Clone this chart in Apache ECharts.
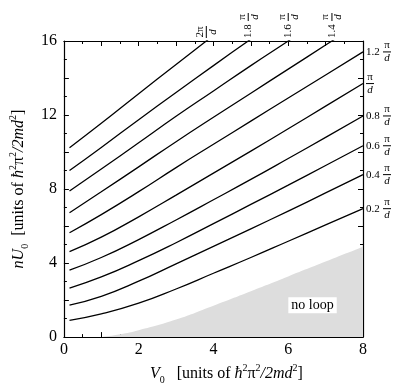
<!DOCTYPE html>
<html>
<head>
<meta charset="utf-8">
<script src="https://cdn.jsdelivr.net/npm/echarts@6/dist/echarts.min.js"></script>
<style>
  html, body { margin: 0; background: #fff; }
  #chart { width: 399px; height: 390px; }
</style>
</head>
<body>
<div id="chart"></div>
<script>
/* V0 sample points shared by every curve */
const V0 = [0.15, 1, 2, 3, 4, 5, 6, 7, 8];

/* nU0 for each k (in units of pi/d) */
const k02 = [0.9, 1.25, 1.83, 2.6, 3.45, 4.3, 5.18, 6.06, 6.94];
const k04 = [1.73, 2.2, 3.02, 3.96, 4.9, 5.85, 6.81, 7.79, 8.78];
const k06 = [2.65, 3.25, 4.13, 5.1, 6.13, 7.17, 8.21, 9.27, 10.34];
const k08 = [3.62, 4.3, 5.27, 6.33, 7.42, 8.52, 9.65, 10.79, 11.95];
const k10 = [4.62, 5.4, 6.5, 7.67, 8.86, 10.05, 11.26, 12.48, 13.7];
const k12 = [5.64, 6.62, 7.86, 9.16, 10.42, 11.67, 12.92, 14.16, 15.41];
const k14 = [6.72, 7.85, 9.2, 10.56, 11.88, 13.18, 14.48, 15.78, 17.08];
const k16 = [7.89, 9.08, 10.5, 11.93, 13.3, 14.67, 16.0, 17.35, 18.7];
const k18 = [9.0, 10.25, 11.75, 13.22, 14.67, 16.1, 17.5, 18.9, 20.3];
const k20 = [10.23, 11.55, 13.15, 14.73, 16.3, 17.85, 19.4, 20.95, 22.5];

/* curves labelled on the right axis / on the top axis */
const rightCurves = [k02, k04, k06, k08, k10, k12];
const rightCoef = ['0.2', '0.4', '0.6', '0.8', '', '1.2'];
const topCurves = [k20, k18, k16, k14];
const topCoef = ['2', '1.8', '1.6', '1.4'];

/* shaded "no loop" region boundary */
const noLoopV = [1.0, 1.5, 2, 3, 4, 5, 6, 7, 8];
const noLoopU = [0, 0.15, 0.37, 0.95, 1.7, 2.48, 3.28, 4.08, 4.88];
const noLoopText = 'no loop';
const noLoopAt = [6.65, 1.72];

const Y_MAX = 16;
const FONT = '"Liberation Serif", "Times New Roman", serif';

/* ends on the right axis */
const rightVals = rightCurves.map(c => c[c.length - 1]);
/* where a curve leaves through the top */
function crossTop(c) {
  for (let i = 1; i < c.length; i++) {
    if (c[i] >= Y_MAX) {
      return V0[i - 1] + (Y_MAX - c[i - 1]) * (V0[i] - V0[i - 1]) / (c[i] - c[i - 1]);
    }
  }
  return V0[V0.length - 1];
}
const topVals = topCurves.map(crossTop);

function nearest(list, v) {
  let best = 0;
  list.forEach((x, i) => { if (Math.abs(x - v) < Math.abs(list[best] - v)) best = i; });
  return best;
}

/* stacked fraction label: coef  pi/d */
function fracLabel(coef) {
  if (coef === '2') return '{s0| }{f2|2π}\n{n0| }{b2| }\n{s0| }{d2|d}';
  if (coef === '') return '{s0| }{f|π}\n{n0| }{b| }\n{s0| }{d|d}';
  return '{s| }{f|π}\n{n|' + coef + '}{b| }\n{s| }{d|d}';
}

const fracRich = {
  s: { width: 17, align: 'left', lineHeight: 10 },
  n: { width: 17, align: 'left', lineHeight: 3, fontSize: 11, fontFamily: FONT, color: '#000' },
  s0: { width: 0, align: 'left', lineHeight: 10 },
  n0: { width: 0, align: 'left', lineHeight: 3 },
  f: { width: 8, align: 'center', fontSize: 11, lineHeight: 10, fontFamily: FONT, color: '#000' },
  d: { width: 8, align: 'center', fontSize: 11, lineHeight: 10, fontFamily: FONT, fontStyle: 'italic', color: '#000' },
  b: { width: 8, height: 1, align: 'center', lineHeight: 3, backgroundColor: '#000' },
  f2: { width: 12, align: 'center', fontSize: 11, lineHeight: 10, fontFamily: FONT, color: '#000' },
  d2: { width: 12, align: 'center', fontSize: 11, lineHeight: 10, fontFamily: FONT, fontStyle: 'italic', color: '#000' },
  b2: { width: 12, height: 1, align: 'center', lineHeight: 3, backgroundColor: '#000' }
};

const nameRich = {
  r: { fontSize: 16, fontFamily: FONT, color: '#000', lineHeight: 22 },
  i: { fontSize: 16, fontFamily: FONT, fontStyle: 'italic', color: '#000', lineHeight: 22 },
  sup: { fontSize: 10, fontFamily: FONT, color: '#000', verticalAlign: 'top', lineHeight: 22 },
  sub: { fontSize: 10, fontFamily: FONT, color: '#000', verticalAlign: 'bottom', lineHeight: 22 }
};
const unitsText = '{r|[units of }{i|ħ}{sup|2}{r|π}{sup|2}{i|/2md}{sup|2}{r|]}';

const axisLine = { onZero: false, lineStyle: { color: '#000', width: 1.2 } };
const axisTick = { inside: true, length: 5, lineStyle: { color: '#000', width: 1 } };
const minorTick = { show: true, splitNumber: 2, length: 3, lineStyle: { color: '#000', width: 1 } };

const chart = echarts.init(document.getElementById('chart'));

const curveSeries = [k02, k04, k06, k08, k10, k12, k14, k16, k18, k20].map(c => ({
  type: 'line',
  data: V0.map((v, i) => [v, c[i]]),
  showSymbol: false,
  smooth: 0.5,
  lineStyle: { color: '#000', width: 1.3 },
  z: 3
}));

chart.setOption({
  animation: false,
  grid: { left: 61, right: 36, top: 41, bottom: 50 },
  xAxis: [
    {
      type: 'value', min: 0, max: 8, interval: 1, position: 'bottom',
      axisLine, axisTick, minorTick,
      splitLine: { show: false },
      axisLabel: {
        formatter: v => (v % 2 === 0 ? String(v) : ''),
        color: '#000', fontSize: 16, fontFamily: FONT, margin: 5
      },
      name: '{i|V}{sub|0}{r|   }' + unitsText,
      nameLocation: 'middle', nameGap: 14,
      nameTextStyle: { rich: nameRich, padding: [0, 0, 0, 26] }
    },
    {
      type: 'value', min: 0, max: 8, interval: 1, position: 'top',
      axisLine, axisTick, minorTick,
      splitLine: { show: false },
      axisLabel: {
        customValues: topVals, rotate: -90, margin: 3,
        formatter: v => fracLabel(topCoef[nearest(topVals, v)]),
        rich: fracRich
      }
    }
  ],
  yAxis: [
    {
      type: 'value', min: 0, max: Y_MAX, interval: 2, position: 'left',
      axisLine, axisTick, minorTick,
      splitLine: { show: false },
      axisLabel: {
        formatter: v => (v % 4 === 0 ? String(v) : ''),
        color: '#000', fontSize: 16, fontFamily: FONT, margin: 7
      },
      name: '{i|nU}{sub|0}{r|  }' + unitsText,
      nameLocation: 'middle', nameGap: 29, nameRotate: 90,
      nameTextStyle: { rich: nameRich }
    },
    {
      type: 'value', min: 0, max: Y_MAX, interval: 2, position: 'right',
      axisLine, axisTick, minorTick,
      splitLine: { show: false },
      axisLabel: {
        customValues: rightVals, margin: 3,
        formatter: v => fracLabel(rightCoef[nearest(rightVals, v)]),
        rich: fracRich
      }
    }
  ],
  series: [
    {
      type: 'line',
      data: noLoopV.map((v, i) => [v, noLoopU[i]]),
      showSymbol: false,
      smooth: 0.5,
      lineStyle: { width: 0 },
      areaStyle: { color: '#dddddd', opacity: 1 },
      z: 1,
      markPoint: {
        symbol: 'rect', symbolSize: 0,
        data: [{ coord: noLoopAt }],
        label: {
          show: true, position: 'inside', formatter: noLoopText,
          backgroundColor: '#fff', padding: [1, 3],
          color: '#000', fontSize: 14, fontFamily: FONT
        }
      }
    }
  ].concat(curveSeries)
});
</script>
</body>
</html>
